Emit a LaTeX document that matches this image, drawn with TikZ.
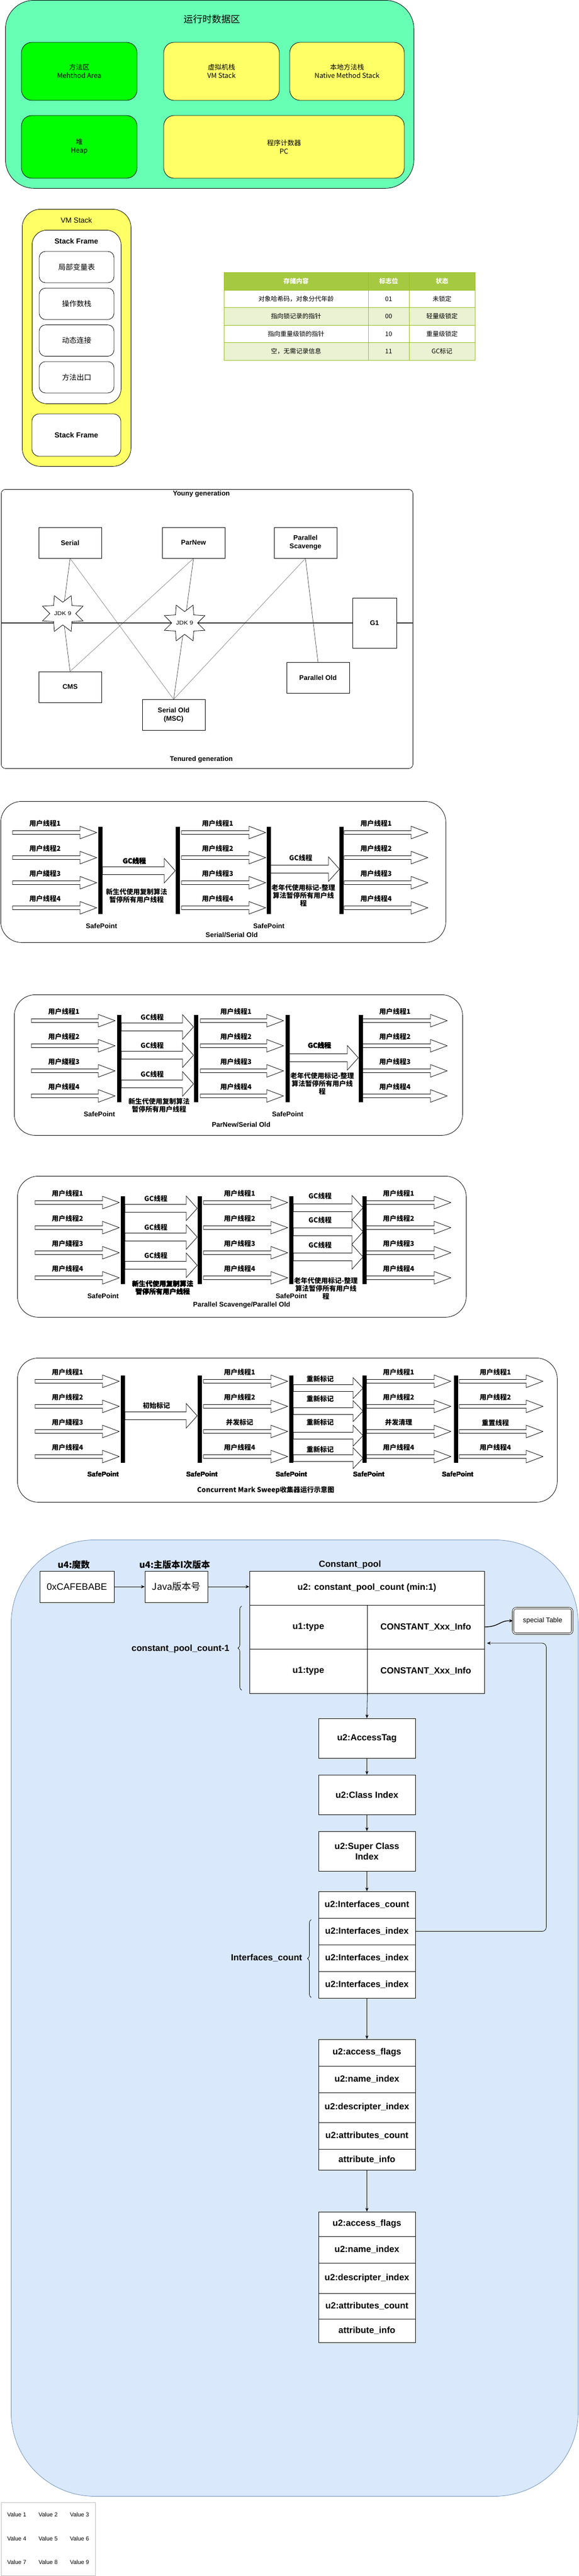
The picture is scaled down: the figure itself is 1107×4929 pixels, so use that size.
\documentclass[tikz,border=0pt]{standalone}
\usepackage{fontspec}
\setmainfont{Liberation Sans}
\newfontfamily\cjk{Noto Sans CJK SC}
\usetikzlibrary{arrows.meta,shapes.geometric,positioning,decorations.pathreplacing,backgrounds}
\definecolor{rtgreen}{RGB}{102,255,179}
\definecolor{areagreen}{RGB}{0,255,0}
\definecolor{areayellow}{RGB}{255,255,102}
\definecolor{tblhead}{RGB}{166,201,66}
\definecolor{tblrow}{RGB}{234,242,211}
\definecolor{tblline}{RGB}{152,191,33}
\definecolor{cfblue}{RGB}{218,232,252}
\definecolor{cfline}{RGB}{108,142,191}
\newcommand{\fsz}[2]{\fontsize{#1}{#2}\selectfont}
% block arrow: x1, x2, y, body, head, head length
\newcommand{\blkarrow}[6]{\draw[fill=white] (#1,{#3-#4/2}) -- ({#2-#6},{#3-#4/2}) -- ({#2-#6},{#3-#5/2}) -- (#2,#3) -- ({#2-#6},{#3+#5/2}) -- ({#2-#6},{#3+#4/2}) -- (#1,{#3+#4/2}) -- cycle;}
\newcommand{\tarrow}[3]{\blkarrow{#1}{#2}{#3}{7}{24}{32}}
\newcommand{\garrow}[3]{\blkarrow{#1}{#2}{#3}{15}{47}{21}}
\newcommand{\rarrow}[3]{\blkarrow{#1}{#2}{#3}{13}{40}{19}}
\newcommand{\spbar}[3]{\fill (#1,#2) rectangle ({#1+8},#3);}
\tikzstyle{area} = [draw, rounded corners=20pt, align=center, font=\cjk\fsz{13}{16}]
\tikzstyle{frameitem} = [draw, fill=white, rounded corners=12pt, minimum width=143, minimum height=60, font=\cjk\fsz{14}{17}]
\tikzstyle{tcell} = [draw=tblline, minimum height=33.5, inner sep=0pt, font=\cjk\fsz{12}{14}]
\tikzstyle{gcnode} = [draw, minimum width=120, minimum height=59, align=center, font=\bfseries\fsz{13}{16}]
\tikzstyle{gctext} = [font=\bfseries\fsz{13}{16}]
\tikzstyle{jdkstar} = [star, star points=8, star point ratio=1.7, shape border rotate=22.5, draw, fill=white, minimum size=84, inner sep=0pt, yscale=0.88, font=\fsz{12}{14}]
\tikzstyle{gcline} = [draw=black!75, line width=0.7pt]
\tikzstyle{gcline2} = [draw=black!50, line width=0.7pt]
\tikzstyle{genline} = [line width=1.6pt, draw=black!85]
\tikzstyle{thbox} = [draw, rounded corners=40pt, anchor=north west]
\tikzstyle{thr} = [inner sep=0pt, align=center, font=\cjk\bfseries\fsz{13}{15}]
\tikzstyle{spl} = [inner sep=0pt, font=\bfseries\fsz{13}{15}]
\tikzstyle{cbox} = [draw, fill=white, align=center, inner sep=2pt, font=\bfseries\fsz{17}{20}]
\tikzstyle{clabel} = [inner sep=1pt, font=\bfseries\fsz{17}{20}]
\tikzstyle{cconn} = [-{Stealth[length=7pt,width=6pt]}, line width=0.8pt]
\tikzstyle{cbrace} = [decorate, decoration={brace, amplitude=7pt}, line width=0.8pt]

\begin{document}
\begin{tikzpicture}[x=1pt, y=-1pt, line width=0.8pt]
\useasboundingbox (0,0) rectangle (1107,4929);

% Runtime data area
\node[draw, fill=rtgreen, rounded corners=55pt, minimum width=781, minimum height=360, anchor=north west] (rtarea) at (10,0) {};
\node[font=\cjk\fsz{18}{22}] (rttitle) at (405,37) {运行时数据区};
\node[area, fill=areagreen, minimum width=221, minimum height=111] (method) at (151.5,136.5) {方法区\\Mehthod Area};
\node[area, fill=areayellow, minimum width=221, minimum height=111] (vmstack) at (423.5,136.5) {虚拟机栈\\VM Stack};
\node[area, fill=areayellow, minimum width=219, minimum height=111] (native) at (663.5,136.5) {本地方法栈\\Native Method Stack};
\node[area, fill=areagreen, minimum width=221, minimum height=120] (heap) at (151.5,281) {堆\\Heap};
\node[area, fill=areayellow, minimum width=460, minimum height=120] (pc) at (543,281) {程序计数器\\PC};

% VM Stack
\node[draw, fill=areayellow, rounded corners=35pt, minimum width=208, minimum height=492, anchor=north west] (vms) at (42,400) {};
\node[font=\fsz{14}{17}] (vmstitle) at (146,421) {VM Stack};
\node[draw, fill=white, rounded corners=28pt, minimum width=170, minimum height=332, anchor=north west] (frame1) at (61,440) {};
\node[font=\bfseries\fsz{14}{17}] (frame1title) at (146,461) {Stack Frame};
\foreach \itm [count=\i] in {局部变量表,操作数栈,动态连接,方法出口}
  \node[frameitem] (fitem\i) at (146.5,{511+70.3*(\i-1)}) {\itm};
\node[draw, fill=white, rounded corners=14pt, minimum width=170, minimum height=81, font=\bfseries\fsz{14}{17}] (frame2) at (146,832.5) {Stack Frame};

% Mark word table
\node[tcell, fill=tblhead, minimum width=276, minimum height=34, font=\cjk\bfseries\fsz{12}{14}, text=white] (th1) at (566,538) {存储内容};
\node[tcell, fill=tblhead, minimum width=78, minimum height=34, font=\cjk\bfseries\fsz{12}{14}, text=white] (th2) at (743,538) {标志位};
\node[tcell, fill=tblhead, minimum width=126, minimum height=34, font=\cjk\bfseries\fsz{12}{14}, text=white] (th3) at (845,538) {状态};
\foreach \cont/\flag/\stat/\rc [count=\rw] in {对象哈希码，对象分代年龄/01/未锁定/white, 指向锁记录的指针/00/轻量级锁定/tblrow, 指向重量级锁的指针/10/重量级锁定/white, 空，无需记录信息/11/GC标记/tblrow} {
  \pgfmathsetmacro\ry{571.75+33.5*(\rw-1)}
  \node[tcell, fill=\rc, minimum width=276] (tc\rw) at (566,\ry) {\cont};
  \node[tcell, fill=\rc, minimum width=78] (tf\rw) at (743,\ry) {\flag};
  \node[tcell, fill=\rc, minimum width=126] (ts\rw) at (845,\ry) {\stat};
}

% Collectors
\node[draw, rounded corners=8pt, minimum width=787, minimum height=534, anchor=north west] (gcarea) at (2,936) {};
\node[gctext] (young) at (385,945) {Youny generation};
\node[gctext] (tenured) at (385,1453) {Tenured generation};
\node[gcnode] (serial) at (134,1038.5) {Serial};
\node[gcnode] (parnew) at (370,1038.5) {ParNew};
\node[gcnode] (pscav) at (584,1038.5) {Parallel\\Scavenge};
\node[gcnode, minimum width=84, minimum height=96] (g1) at (716,1192) {G1};
\node[gcnode] (cms) at (134,1314.5) {CMS};
\node[gcnode] (serold) at (332,1368) {Serial Old\\(MSC)};
\node[gcnode] (parold) at (608,1297) {Parallel Old};
\node[jdkstar] (jdk1) at (120,1174) {JDK 9};
\node[jdkstar] (jdk2) at (353,1192) {JDK 9};
\begin{scope}[on background layer]
\draw[gcline] (serial.south) -- (jdk1) -- (cms.north);
\draw[gcline2] (serial.south) -- (serold.north);
\draw[gcline2] (parnew.south) -- (cms.north);
\draw[gcline] (parnew.south) -- (jdk2) -- (serold.north);
\draw[gcline2] (pscav.south) -- (serold.north);
\draw[gcline] (pscav.south) -- (parold.north);
\draw[genline] (gcarea.west |- g1.west) -- (g1.west);
\draw[genline] (g1.east) -- (gcarea.east |- g1.east);
\end{scope}

% Serial/Serial Old
\node[thbox, minimum width=851, minimum height=270] (ssbox) at (1,1533) {};
\foreach \i/\y/\lw in {1/1593/线,2/1641/线,3/1689/綫,4/1737/线} {
  \tarrow{24}{185}{\y}
  \tarrow{347}{508}{\y}
  \tarrow{658}{818}{\y}
  \node[thr] (ssl\i) at (86,{\y-17}) {用户\lw{}程\i};
  \node[thr] (ssm\i) at (416,{\y-17}) {用户线程\i};
  \node[thr] (ssr\i) at (719,{\y-17}) {用户线程\i};
}
\garrow{196}{335}{1666}
\garrow{514}{649}{1663}
\foreach \x in {188,336,510,649} \spbar{\x}{1582}{1749}
\node[thr] (ssgc1) at (257,1648) {GC线程};
\node[thr] (ssgc2) at (575,1642) {GC线程};
\node[thr] (ssnew) at (261,1714.5) {新生代使用复制算法\\暂停所有用户线程};
\node[thr] (ssold) at (580,1714) {老年代使用标记-整理\\算法暂停所有用户线\\程};
\node[spl] (sssp1) at (194,1772) {SafePoint};
\node[spl] (sssp2) at (514,1772) {SafePoint};
\node[spl] (sstitle) at (443,1789) {Serial/Serial Old};

% ParNew/Serial Old
\node[thbox, minimum width=857, minimum height=269] (pnbox) at (27,1903) {};
\foreach \i/\y/\lw in {1/1953/线,2/2001/线,3/2049/綫,4/2097/线} {
  \tarrow{60}{220}{\y}
  \tarrow{383}{542}{\y}
  \tarrow{693}{855}{\y}
  \node[thr] (pnl\i) at (122,{\y-17}) {用户\lw{}程\i};
  \node[thr] (pnm\i) at (451,{\y-17}) {用户线程\i};
  \node[thr] (pnr\i) at (755,{\y-17}) {用户线程\i};
}
\foreach \y [count=\i] in {1965,2019,2074} {
  \garrow{232}{370}{\y}
  \node[thr] (pngc\i) at (291,{\y-18}) {GC线程};
}
\garrow{553}{685}{2024}
\foreach \x in {224,371,546,686} \spbar{\x}{1942}{2109}
\node[thr] (pngc4) at (611,2001) {GC线程};
\node[thr] (pnnew) at (304,2115.5) {新生代使用复制算法\\暂停所有用户线程};
\node[thr] (pnold) at (616,2074) {老年代使用标记-整理\\算法暂停所有用户线\\程};
\node[spl] (pnsp1) at (190,2132) {SafePoint};
\node[spl] (pnsp2) at (550,2132) {SafePoint};
\node[spl] (pntitle) at (461,2152) {ParNew/Serial Old};

% Parallel Scavenge/Parallel Old
\node[thbox, minimum width=858, minimum height=270] (psbox) at (33,2250) {};
\foreach \i/\y/\lw in {1/2301/线,2/2349/线,3/2397/綫,4/2445/线} {
  \tarrow{67}{228}{\y}
  \tarrow{389}{550}{\y}
  \tarrow{700}{862}{\y}
  \node[thr] (psl\i) at (129,{\y-17}) {用户\lw{}程\i};
  \node[thr] (psm\i) at (458,{\y-17}) {用户线程\i};
  \node[thr] (psr\i) at (762,{\y-17}) {用户线程\i};
}
\foreach \y [count=\i] in {2312,2367,2421} {
  \garrow{239}{377}{\y}
  \node[thr] (psgc\i) at (298,{\y-18}) {GC线程};
}
\foreach \y [count=\i] in {2311,2357,2405} {
  \garrow{561}{694}{\y}
  \node[thr] (psgo\i) at (612,{\y-22}) {GC线程};
}
\foreach \x in {231,378,553,693} \spbar{\x}{2289}{2457}
\node[thr] (psnew) at (311,2464) {新生代使用复制算法\\暂停所有用户线程};
\node[thr] (psold) at (623,2465) {老年代使用标记-整理\\算法暂停所有用户线\\程};
\node[spl] (pssp1) at (197,2480) {SafePoint};
\node[spl] (pssp2) at (557,2480) {SafePoint};
\node[spl] (pstitle) at (462,2497) {Parallel Scavenge/Parallel Old};

% Concurrent Mark Sweep
\node[thbox, minimum width=1032, minimum height=276] (cmsbox) at (33,2598) {};
\foreach \i/\y/\lw/\ma/\mb/\mc in {1/2643/线/用户线程1/用户线程1/用户线程1, 2/2691/线/用户线程2/用户线程2/用户线程2, 3/2739/綫/并发标记/并发清理/重置线程, 4/2787/线/用户线程4/用户线程4/用户线程4} {
  \tarrow{67}{228}{\y}
  \tarrow{389}{550}{\y}
  \tarrow{701}{862}{\y}
  \tarrow{878}{1038}{\y}
  \node[thr] (cml\i) at (129,{\y-17}) {用户\lw{}程\i};
  \node[thr] (cmm\i) at (458,{\y-17}) {\ma};
  \node[thr] (cmr\i) at (762,{\y-17}) {\mb};
  \node[thr] (cmx\i) at (947,{\y-17}) {\mc};
}
\garrow{239}{377}{2709}
\node[thr] (cminit) at (299,2689) {初始标记};
\foreach \y/\ly [count=\i] in {2656/2638,2700/2676,2747/2721,2790/2773} {
  \rarrow{561}{694}{\y}
  \node[thr] (cmre\i) at (612,\ly) {重新标记};
}
\foreach \x in {231,378,553,693,868} \spbar{\x}{2632}{2799}
\foreach \x [count=\i] in {197,386,557,705,875}
  \node[spl] (cmsp\i) at (\x,2821) {SafePoint};
\node[thr] (cmtitle) at (508,2851) {Concurrent Mark Sweep收集器运行示意图};

% Class file structure
\node[draw=cfline, fill=cfblue, rounded corners=160pt, minimum width=1084, minimum height=1830, anchor=north west] (cfarea) at (21,2946) {};
\node[clabel, font=\cjk\bfseries\fsz{17}{20}] (magiclbl) at (141,2994) {u4:魔数};
\node[clabel, font=\cjk\bfseries\fsz{17}{20}] (verlbl) at (334,2994) {u4:主版本I次版本};
\node[clabel] (cplbl) at (669,2994) {Constant\_pool};
\node[cbox, font=\fsz{18}{21}, minimum width=142, minimum height=60] (magic) at (147,3036) {0xCAFEBABE};
\node[cbox, font=\cjk\fsz{18}{21}, minimum width=120, minimum height=60] (ver) at (337,3036) {Java版本号};
\node[cbox, minimum width=449, minimum height=65] (cpcount) at (701.5,3038.5) {u2: constant\_pool\_count (min:1)};
\node[cbox, minimum width=225, minimum height=84] (cpt1) at (589.5,3113) {u1:type};
\node[cbox, minimum width=224, minimum height=84] (cpi1) at (814,3113) {CONSTANT\_Xxx\_Info};
\node[cbox, minimum width=225, minimum height=85] (cpt2) at (589.5,3197.5) {u1:type};
\node[cbox, minimum width=224, minimum height=85] (cpi2) at (814,3197.5) {CONSTANT\_Xxx\_Info};
\draw[cbrace] (462,3234) -- (462,3073);
\node[clabel, anchor=east] (cpnum) at (440,3155) {constant\_pool\_count-1};
\node[draw, double, double distance=2pt, rounded corners=6pt, fill=white, minimum width=113, minimum height=49, font=\fsz{13}{16}] (spec) at (1037.5,3101.5) {special Table};
\coordinate (cpret) at (931,3144);

\node[cbox, minimum width=185, minimum height=76] (acc) at (701.5,3326) {u2:AccessTag};
\node[cbox, minimum width=185, minimum height=76] (cls) at (701.5,3434) {u2:Class Index};
\node[cbox, minimum width=185, minimum height=76] (sup) at (701.5,3542) {u2:Super Class\\Index};
\node[cbox, minimum width=185, minimum height=51] (ifc) at (701.5,3644.5) {u2:Interfaces\_count};
\foreach \i in {1,2,3}
  \node[cbox, minimum width=185, minimum height=51] (ifx\i) at (701.5,{3644.5+51*\i}) {u2:Interfaces\_index};
\draw[cbrace] (595,3822) -- (595,3673);
\node[clabel, anchor=east] (ifnum) at (579,3746) {Interfaces\_count};

\foreach \txt/\yc/\h [count=\k] in {u2:access\_flags/3927.5/51, u2:name\_index/3978.5/51, u2:descripter\_index/4032.5/57, u2:attributes\_count/4086.5/51, attribute\_info/4132/40}
  \node[cbox, minimum width=185, minimum height=\h] (fa\k) at (701.5,\yc) {\txt};
\foreach \txt/\yc/\h [count=\k] in {u2:access\_flags/4255.5/47, u2:name\_index/4304.5/51, u2:descripter\_index/4359/58, u2:attributes\_count/4412.5/49, attribute\_info/4459.5/45}
  \node[cbox, minimum width=185, minimum height=\h] (fb\k) at (701.5,\yc) {\txt};

\draw[cconn] (magic) -- (ver);
\draw[cconn] (ver.east) -- (ver.east -| cpcount.west);
\draw[cconn, line width=1.4pt] (cpi1.east) .. controls (955,3113) and (955,3100) .. (spec.west);
\draw[cconn] (cpt2.south east) -- (acc.north);
\draw[cconn] (acc) -- (cls);
\draw[cconn] (cls) -- (sup);
\draw[cconn] (sup) -- (ifc);
\draw[cconn, rounded corners=8pt] (ifx1.east) -- ++(250,0) |- (cpret);
\draw[cconn] (ifx3.south) -- (fa1.north);
\draw[cconn] (fa5.south) -- (fb1.north);

% Value table
\node[draw=black!25, minimum width=180, minimum height=140, anchor=north west] (valtbl) at (2,4788) {};
\foreach \rw/\yy in {0/4812,1/4858,2/4903}
  \foreach \cl/\xx in {1/32,2/92,3/152} {
    \pgfmathtruncatemacro\vn{3*\rw+\cl}
    \node[font=\fsz{11}{13}] (val\vn) at (\xx,\yy) {Value \vn};
  }
\end{tikzpicture}
\end{document}
